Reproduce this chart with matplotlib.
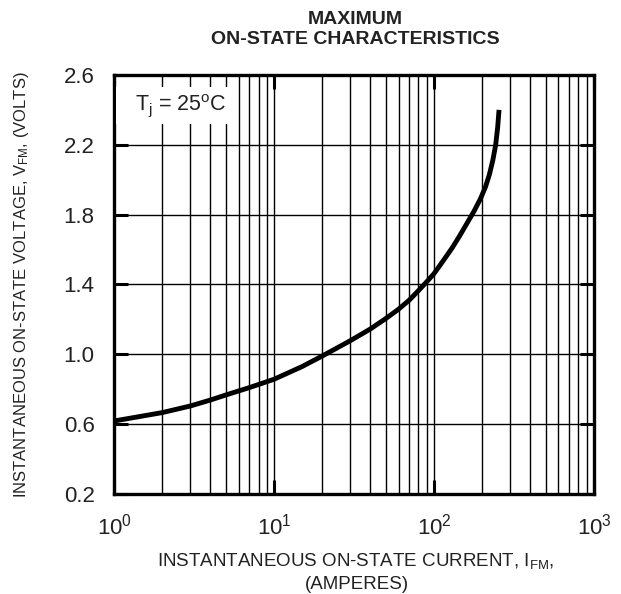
import matplotlib
matplotlib.use("Agg")
import matplotlib.pyplot as plt
from matplotlib.patches import Rectangle
from matplotlib.ticker import FixedLocator, LogLocator, NullFormatter

plt.rcParams['font.family'] = ['Liberation Sans', 'DejaVu Sans']
plt.rcParams['mathtext.fontset'] = 'custom'
plt.rcParams['mathtext.rm'] = 'Liberation Sans'
plt.rcParams['mathtext.it'] = 'Liberation Sans'
plt.rcParams['mathtext.default'] = 'regular'

# on-state curve
i_fm = [1, 2, 3, 4, 5, 7, 10, 15, 20, 30, 40, 50, 60, 70, 80, 90, 100,
        114, 130, 145, 178, 195, 210, 222, 233, 243, 250, 255]
v_fm = [0.618, 0.666, 0.704, 0.738, 0.767, 0.809, 0.857, 0.93, 0.99, 1.078,
        1.145, 1.205, 1.258, 1.31, 1.365, 1.415, 1.462, 1.535, 1.61, 1.68,
        1.82, 1.89, 1.96, 2.03, 2.11, 2.2, 2.3, 2.40]

y_ticks = [0.2, 0.6, 1.0, 1.4, 1.8, 2.2, 2.6]
y_labels = ["0.2", "0.6", "1.0", "1.4", "1.8", "2.2", "2.6"]

txt = '#222222'

fig = plt.figure(figsize=(6.21, 5.94), dpi=100)
ax = fig.add_axes([0.1836, 0.1684, 0.7729, 0.7054])

ax.set_xscale('log')
ax.set_xlim(1, 1000)
ax.set_ylim(0.2, 2.6)

ax.xaxis.set_major_locator(LogLocator(base=10, numticks=10))
ax.xaxis.set_minor_locator(LogLocator(base=10, subs=range(2, 10), numticks=10))
ax.xaxis.set_minor_formatter(NullFormatter())
ax.yaxis.set_major_locator(FixedLocator(y_ticks))
ax.set_yticklabels(y_labels)

ax.grid(True, which='both', axis='x', color='black', lw=1.0)
ax.grid(True, which='major', axis='y', color='black', lw=1.0)
ax.set_axisbelow(True)

ax.tick_params(which='major', direction='in', length=10, width=2.2,
               top=True, right=True, labelsize=16, labelcolor=txt)
ax.tick_params(axis='x', pad=14)
ax.tick_params(axis='y', pad=14)
ax.tick_params(which='minor', length=0)
for s in ax.spines.values():
    s.set_linewidth(2.4)

ax.plot(i_fm, v_fm, color='black', lw=3.5, solid_capstyle='butt', zorder=5)

ax.add_patch(Rectangle((0.004, 0.883), 0.25, 0.088, transform=ax.transAxes,
                       facecolor='white', edgecolor='none', zorder=3))
ax.text(0.14, 0.9165, r'T$_{\rm j}$ = 25$^{\rm o}$C', transform=ax.transAxes,
        ha='center', va='baseline', fontsize=15.5, color=txt, zorder=4)

fig.text(0.572, 0.9596, 'MAXIMUM', ha='center', va='baseline',
         fontsize=14, fontweight='bold', color=txt)
fig.text(0.572, 0.926, 'ON-STATE CHARACTERISTICS', ha='center', va='baseline',
         fontsize=14, fontweight='bold', color=txt)
fig.text(0.573, 0.0471, r'INSTANTANEOUS ON-STATE CURRENT, I$_{\rm FM}$,',
         ha='center', va='baseline', fontsize=13.5, color=txt)
fig.text(0.575, 0.0084, '(AMPERES)', ha='center', va='baseline',
         fontsize=13.5, color=txt)
fig.text(0.0354, 0.521, r'INSTANTANEOUS ON-STATE VOLTAGE, V$_{\rm FM}$, (VOLTS)',
         ha='center', va='center', rotation=90, fontsize=12, color=txt)

fig.savefig('out.png', dpi=100)
